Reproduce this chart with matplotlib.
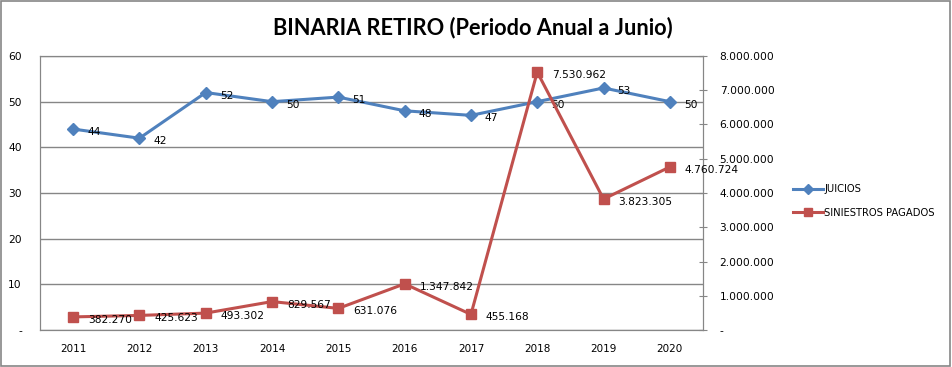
import matplotlib
matplotlib.use("Agg")
import matplotlib.pyplot as plt
from matplotlib.patches import Rectangle
from matplotlib.ticker import FuncFormatter

years = ["2011", "2012", "2013", "2014", "2015", "2016", "2017", "2018", "2019", "2020"]
juicios = [44, 42, 52, 50, 51, 48, 47, 50, 53, 50]
siniestros = [382270, 425623, 493302, 829567, 631076, 1347842, 455168, 7530962, 3823305, 4760724]

BLUE = "#4F81BD"
RED = "#C0504D"
GRID = "#868686"


def miles(v, pos=None):
    if v == 0:
        return "-"
    return f"{int(round(v)):,}".replace(",", ".")


fig = plt.figure(figsize=(9.52, 3.67), dpi=100)
fig.patches.append(Rectangle((0.001, 0.003), 0.997, 0.994, transform=fig.transFigure,
                             fill=False, edgecolor=GRID, linewidth=1.2))

ax = fig.add_axes([40 / 952, 1 - 330 / 367, 663 / 952, 274 / 367])
ax2 = ax.twinx()

x = list(range(len(years)))

l1, = ax.plot(x, juicios, color=BLUE, lw=2.2, marker="D", ms=6.5, label="JUICIOS", zorder=3)
l2, = ax2.plot(x, siniestros, color=RED, lw=2.2, marker="s", ms=7.5, label="SINIESTROS PAGADOS", zorder=3)

for xi, v in zip(x, juicios):
    ax.annotate(str(v), (xi, v), xytext=(14, -3), textcoords="offset pixels",
                ha="left", va="center", fontsize=7.7, color="black")
for xi, v in zip(x, siniestros):
    ax2.annotate(miles(v), (xi, v), xytext=(15, -3), textcoords="offset pixels",
                 ha="left", va="center", fontsize=7.7, color="black")

ax.set_xlim(-0.5, len(years) - 0.5)
ax.set_ylim(0, 60)
ax.set_yticks(range(0, 61, 10))
ax.yaxis.set_major_formatter(FuncFormatter(miles))
ax.set_xticks(x)
ax.set_xticklabels(years)
ax.grid(axis="y", color=GRID, lw=1)
ax.set_axisbelow(True)
ax.tick_params(axis="x", length=0, labelsize=7.5, pad=10)
ax.tick_params(axis="y", length=0, labelsize=7.7, pad=13)

ax2.set_ylim(0, 8000000)
ax2.set_yticks(range(0, 8000001, 1000000))
ax2.yaxis.set_major_formatter(FuncFormatter(miles))
ax2.tick_params(axis="y", direction="inout", length=6, color=GRID, labelsize=7.7, pad=9)

for a in (ax, ax2):
    for s in a.spines.values():
        s.set_color(GRID)

fig.text(0.497, 0.925, "BINARIA RETIRO (Periodo Anual a Junio)", ha="center", va="center",
         fontsize=15.7, fontweight="bold", family="Lato")

fig.legend([l1, l2], ["JUICIOS", "SINIESTROS PAGADOS"], loc="center left",
           bbox_to_anchor=(784 / 952, 1 - 201 / 367), frameon=False, fontsize=7.2,
           handlelength=3, handletextpad=0.1, labelspacing=1.3, markerscale=0.85)

fig.savefig("out.png", dpi=100)
